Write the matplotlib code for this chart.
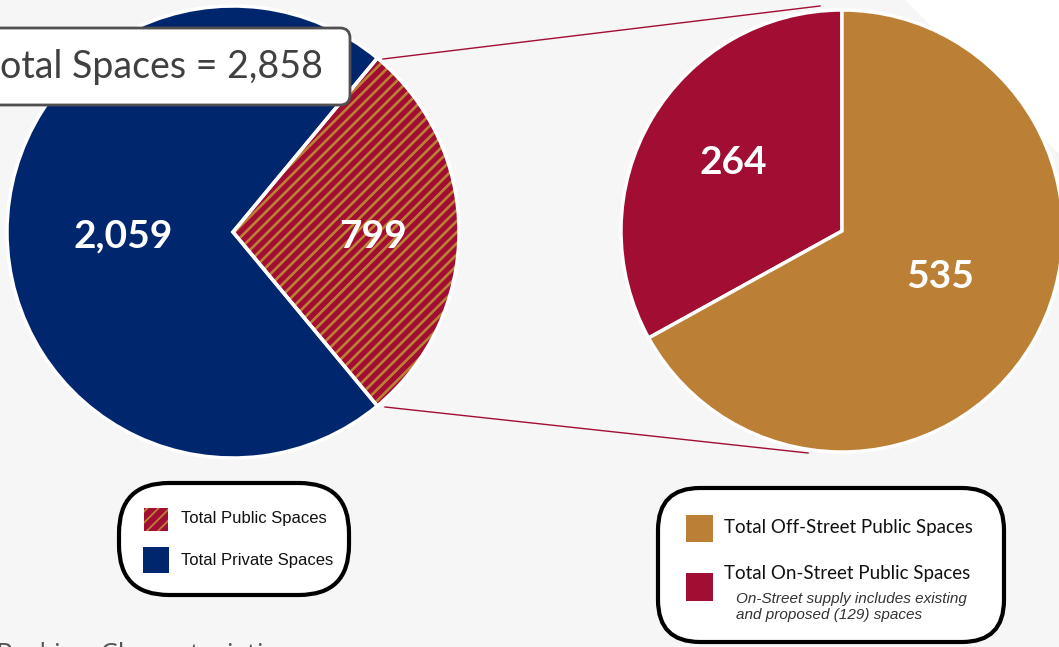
import matplotlib.pyplot as plt
from matplotlib.patches import FancyBboxPatch, Rectangle, Polygon

# Parking supply (spaces)
total_labels = ['Total Public Spaces', 'Total Private Spaces']
total_values = [799, 2059]
public_labels = ['Total On-Street Public Spaces', 'Total Off-Street Public Spaces']
public_values = [264, 535]
grand_total = sum(total_values)

NAVY = '#00266e'
CRIMSON = '#a10d33'
GOLD = '#bb8035'
BG = '#f6f6f6'

W, H = 1059, 647
fig = plt.figure(figsize=(W / 100, H / 100), dpi=100, facecolor=BG)
ax = fig.add_axes([0, 0, 1, 1])
ax.set_facecolor(BG)


def Y(y):
    # pixel row (from top) -> data y
    return H - y


# white corner of the slide background
ax.add_patch(Polygon([(905, Y(0)), (W, Y(0)), (W, Y(154))], closed=True,
                     facecolor='white', edgecolor='none', zorder=0))

# left pie: public vs private, public wedge centred on the right side
plt.rcParams['hatch.linewidth'] = 1.9
pub_angle = total_values[0] / grand_total * 360
start = -pub_angle / 2
left_c, left_r = (233, Y(232)), 226
wl, _ = ax.pie(total_values, colors=[CRIMSON, NAVY], startangle=start,
               counterclock=True, center=left_c, radius=left_r,
               wedgeprops=dict(linewidth=0), frame=True)
wl[0].set_hatch('///')
wl[0].set_edgecolor(GOLD)
ax.pie(total_values, startangle=start, counterclock=True, center=left_c,
       radius=left_r, wedgeprops=dict(fill=False, edgecolor='white', linewidth=2.5),
       frame=True)

# right pie: breakdown of public spaces
right_c, right_r = (842, Y(231)), 221
ax.pie(public_values, colors=[CRIMSON, GOLD], startangle=90, counterclock=True,
       center=right_c, radius=right_r,
       wedgeprops=dict(edgecolor='white', linewidth=2.5), frame=True)

# connector lines
ax.plot([383, 820], [Y(59), Y(6)], color=CRIMSON, lw=1.0, zorder=1)
ax.plot([385, 808], [Y(407), Y(453)], color=CRIMSON, lw=1.0, zorder=1)

# value labels
num_kw = dict(color='white', fontweight='bold', fontsize=28, family='Lato',
              ha='center', va='center', zorder=5)
ax.text(123, Y(236), f'{total_values[1]:,}', **num_kw)
ax.text(373, Y(236), f'{total_values[0]:,}', **num_kw)
ax.text(733, Y(162), f'{public_values[0]:,}', **num_kw)
ax.text(940, Y(276), f'{public_values[1]:,}', **num_kw)

# total callout box
ax.add_patch(FancyBboxPatch((-30, Y(105)), 380, 77,
                            boxstyle='round,pad=0,rounding_size=10',
                            facecolor='white', edgecolor='#505050', lw=2, zorder=6))
ax.text(323, Y(67), f'Total Spaces = {grand_total:,}', color='#404040',
        fontsize=27, family='Lato', ha='right', va='center', zorder=7)

# left legend
ax.add_patch(FancyBboxPatch((119, Y(595)), 230, 112,
                            boxstyle='round,pad=0,rounding_size=50',
                            facecolor='white', edgecolor='black', lw=3, zorder=6))
plt.rcParams['hatch.linewidth'] = 1.3
ax.add_patch(Rectangle((144, Y(531)), 24, 23, facecolor=CRIMSON, edgecolor=GOLD,
                       hatch='///', lw=0, zorder=7))
ax.add_patch(Rectangle((143, Y(573)), 26, 26, facecolor=NAVY, lw=0, zorder=7))
leg_kw = dict(fontsize=12, family='Liberation Sans', color='#111111',
              va='center', ha='left', zorder=7)
ax.text(181, Y(519), total_labels[0], **leg_kw)
ax.text(181, Y(560), total_labels[1], **leg_kw)

# right legend
ax.add_patch(FancyBboxPatch((658, Y(642)), 346, 154,
                            boxstyle='round,pad=0,rounding_size=42',
                            facecolor='white', edgecolor='black', lw=3, zorder=6))
ax.add_patch(Rectangle((686, Y(542)), 27, 27, facecolor=GOLD, lw=0, zorder=7))
ax.add_patch(Rectangle((686, Y(601)), 27, 28, facecolor=CRIMSON, lw=0, zorder=7))
leg2_kw = dict(fontsize=13.5, family='Lato', color='#111111',
               va='center', ha='left', zorder=7)
ax.text(724, Y(527), public_labels[1], **leg2_kw)
ax.text(724, Y(573), public_labels[0], **leg2_kw)
ax.text(736, Y(607), 'On-Street supply includes existing\nand proposed (129) spaces',
        fontsize=11, style='italic', family='Liberation Sans', color='#333333',
        va='center', ha='left', linespacing=1.1, zorder=7)

# slide caption (cut off at the bottom edge)
ax.text(-4, Y(642), 'Parking Characteristics', fontsize=20, family='Open Sans',
        color='#555555', ha='left', va='top', zorder=7)

ax.set_xlim(0, W)
ax.set_ylim(0, H)
ax.set_aspect('equal')
ax.axis('off')

fig.savefig('out.png', dpi=100, facecolor=BG)
